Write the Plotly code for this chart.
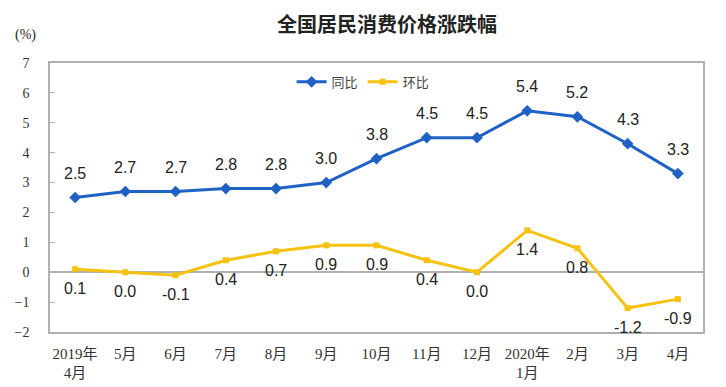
import plotly.graph_objects as go

categories = ["2019年<br>4月", "5月", "6月", "7月", "8月", "9月", "10月", "11月", "12月",
              "2020年<br>1月", "2月", "3月", "4月"]
yoy = [2.5, 2.7, 2.7, 2.8, 2.8, 3.0, 3.8, 4.5, 4.5, 5.4, 5.2, 4.3, 3.3]
mom = [0.1, 0.0, -0.1, 0.4, 0.7, 0.9, 0.9, 0.4, 0.0, 1.4, 0.8, -1.2, -0.9]
y_ticks = [-2, -1, 0, 1, 2, 3, 4, 5, 6, 7]

BLUE = "#1f62c4"
YELLOW = "#f5c211"
x = list(range(len(categories)))

fig = go.Figure()
fig.add_trace(go.Scatter(x=x, y=yoy, name="同比", mode="lines+markers",
                         line=dict(color=BLUE, width=3),
                         marker=dict(symbol="diamond", size=9, color=BLUE)))
fig.add_trace(go.Scatter(x=x, y=mom, name="环比", mode="lines+markers",
                         line=dict(color=YELLOW, width=3),
                         marker=dict(symbol="square", size=6, color=YELLOW)))

annos = []
for i, v in enumerate(yoy):
    annos.append(dict(x=i, y=v, text=f"{v:.1f}", showarrow=False, yshift=24,
                      font=dict(family="Liberation Sans, Arial", size=16, color="#222")))
for i, v in enumerate(mom):
    annos.append(dict(x=i, y=v, text=f"{v:.1f}", showarrow=False, yshift=-19,
                      font=dict(family="Liberation Sans, Arial", size=16, color="#222")))
annos.append(dict(xref="paper", yref="paper", x=0.516, y=1, yshift=40, xanchor="center",
                  yanchor="middle", showarrow=False, text="<b>全国居民消费价格涨跌幅</b>",
                  font=dict(family="Noto Sans CJK SC", size=20, color="#222")))
annos.append(dict(xref="paper", yref="paper", x=0, xshift=-25, y=1, yshift=28,
                  xanchor="center", yanchor="middle", showarrow=False, text="(%)",
                  font=dict(family="Liberation Serif", size=14, color="#222")))

fig.update_layout(
    width=710, height=379,
    margin=dict(l=42, r=15, t=55, b=55),
    paper_bgcolor="white", plot_bgcolor="white",
    annotations=annos,
    showlegend=True,
    legend=dict(orientation="h", x=0.37, y=0.93, xanchor="left", yanchor="middle",
                bgcolor="rgba(0,0,0,0)",
                font=dict(family="Noto Sans CJK SC", size=13, color="#444")),
    xaxis=dict(tickmode="array", tickvals=x, ticktext=categories, range=[-0.5, 12.5],
               showgrid=False, zeroline=False, showline=True, mirror=True,
               linecolor="#b0b0b0", linewidth=1.5, ticks="", automargin=False,
               ticklabelstandoff=7,
               tickfont=dict(family="Liberation Serif, Noto Sans CJK SC", size=15, color="#333")),
    yaxis=dict(tickmode="array", tickvals=y_ticks, range=[-2, 7],
               showgrid=False, zeroline=True, zerolinecolor="#b0b0b0", zerolinewidth=1.5,
               showline=True, mirror=True, linecolor="#b0b0b0", linewidth=1.5,
               ticks="inside", ticklen=5, tickcolor="#b0b0b0",
               ticklabelstandoff=16, automargin=False,
               tickfont=dict(family="Liberation Serif", size=14, color="#333")),
)

fig.write_html("out.html")
